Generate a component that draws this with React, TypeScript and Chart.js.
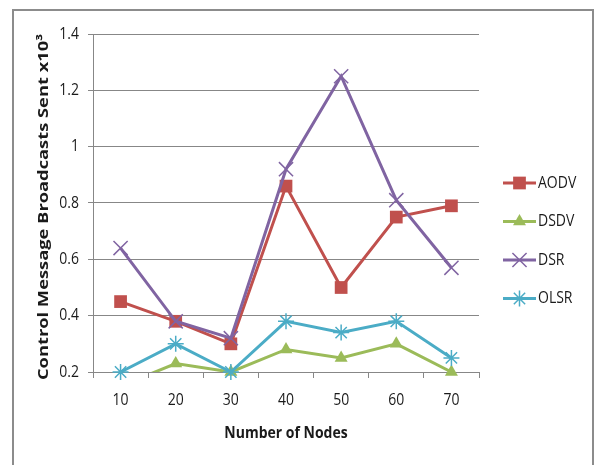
import React, { useEffect, useRef } from "react";
import { Chart, registerables } from "chart.js";

Chart.register(...registerables);

// Number of nodes on the x axis
const nodeCounts = ["10", "20", "30", "40", "50", "60", "70"];

// Control message broadcasts sent (x10^3) per protocol
const aodv = [0.45, 0.38, 0.3, 0.86, 0.5, 0.75, 0.79];
const dsdv = [0.15, 0.23, 0.2, 0.28, 0.25, 0.3, 0.2];
const dsr = [0.64, 0.38, 0.32, 0.92, 1.25, 0.81, 0.57];
const olsr = [0.2, 0.3, 0.2, 0.38, 0.34, 0.38, 0.25];

const seriesNames = ["AODV", "DSDV", "DSR", "OLSR"];
const yTicks = [0.2, 0.4, 0.6, 0.8, 1.0, 1.2, 1.4];
const yTickLabels = ["0.2", "0.4", "0.6", "0.8", "1", "1.2", "1.4"];

const Y_MIN = 0.2;
const Y_MAX = 1.4;

const FONT = "'Open Sans', 'DejaVu Sans', sans-serif";
const GRID = "#878787";
const TEXT = "#1a1a1a";
// text in this chart is drawn slightly taller than wide
const STRETCH = 1.2;

type Marker = "rect" | "triangle" | "crossRot" | "star";

const series: { name: string; values: number[]; color: string; marker: Marker; radius: number }[] = [
  { name: seriesNames[0], values: aodv, color: "#C0504D", marker: "rect", radius: 9 },
  { name: seriesNames[1], values: dsdv, color: "#9BBB59", marker: "triangle", radius: 7.5 },
  { name: seriesNames[2], values: dsr, color: "#8064A2", marker: "crossRot", radius: 10 },
  { name: seriesNames[3], values: olsr, color: "#4BACC6", marker: "star", radius: 8 },
];

function drawMarker(ctx: CanvasRenderingContext2D, m: Marker, x: number, y: number, r: number, color: string) {
  ctx.save();
  ctx.fillStyle = color;
  ctx.strokeStyle = color;
  ctx.lineWidth = 1.5;
  ctx.beginPath();
  if (m === "rect") {
    const s = r * Math.SQRT1_2;
    ctx.rect(x - s, y - s, 2 * s, 2 * s);
    ctx.fill();
  } else if (m === "triangle") {
    ctx.moveTo(x, y - r);
    ctx.lineTo(x + r * 0.866, y + r * 0.5);
    ctx.lineTo(x - r * 0.866, y + r * 0.5);
    ctx.closePath();
    ctx.fill();
  } else if (m === "crossRot") {
    const s = r * Math.SQRT1_2;
    ctx.moveTo(x - s, y - s);
    ctx.lineTo(x + s, y + s);
    ctx.moveTo(x + s, y - s);
    ctx.lineTo(x - s, y + s);
    ctx.stroke();
  } else {
    const s = r * Math.SQRT1_2;
    ctx.moveTo(x - s, y - s);
    ctx.lineTo(x + s, y + s);
    ctx.moveTo(x + s, y - s);
    ctx.lineTo(x - s, y + s);
    ctx.moveTo(x, y - r);
    ctx.lineTo(x, y + r);
    ctx.moveTo(x - r, y);
    ctx.lineTo(x + r, y);
    ctx.stroke();
  }
  ctx.restore();
}

function tallText(
  ctx: CanvasRenderingContext2D,
  text: string,
  x: number,
  y: number,
  align: CanvasTextAlign,
  font: string
) {
  ctx.save();
  ctx.translate(x, y);
  ctx.scale(1, STRETCH);
  ctx.font = font;
  ctx.fillStyle = TEXT;
  ctx.textAlign = align;
  ctx.textBaseline = "middle";
  ctx.fillText(text, 0, 0);
  ctx.restore();
}

// Frame, tick labels, axis titles and the legend at the right
const decorations = {
  id: "decorations",
  afterDraw(chart: Chart) {
    const ctx = chart.ctx;
    const area = chart.chartArea;
    const xs: any = chart.scales.x;
    const ys: any = chart.scales.y;
    ctx.save();
    ctx.strokeStyle = "#8c8c8c";
    ctx.lineWidth = 2;
    ctx.strokeRect(13, 10, 580, 500);

    const tickFont = `14px ${FONT}`;
    yTicks.forEach((v, i) => {
      tallText(ctx, yTickLabels[i], 79, ys.getPixelForValue(v), "right", tickFont);
    });
    nodeCounts.forEach((c, i) => {
      tallText(ctx, c, xs.getPixelForValue(i), 400, "center", tickFont);
    });

    tallText(ctx, "Number of Nodes", (area.left + area.right) / 2, 433, "center", `bold 14px ${FONT}`);

    ctx.save();
    ctx.translate(44, 207);
    ctx.rotate(-Math.PI / 2);
    ctx.scale(1.22, 1);
    ctx.font = `bold 15px ${FONT}`;
    ctx.fillStyle = TEXT;
    ctx.textAlign = "center";
    ctx.textBaseline = "middle";
    ctx.fillText("Control Message Broadcasts Sent x10\u00B3", 0, 0);
    ctx.restore();

    series.forEach((s, i) => {
      const y = 183 + i * 38.5;
      ctx.strokeStyle = s.color;
      ctx.lineWidth = 3;
      ctx.beginPath();
      ctx.moveTo(503, y);
      ctx.lineTo(536, y);
      ctx.stroke();
      drawMarker(ctx, s.marker, 519.5, y, s.radius, s.color);
      tallText(ctx, s.name, 538, y, "left", `14px ${FONT}`);
    });
    ctx.restore();
  },
};

export default function App() {
  const canvasRef = useRef<HTMLCanvasElement | null>(null);

  useEffect(() => {
    if (!canvasRef.current) return;

    const datasets: any[] = [];
    series.forEach((s, i) => {
      // connecting line, clipped to the plot area
      datasets.push({
        label: s.name,
        data: s.values,
        borderColor: s.color,
        backgroundColor: s.color,
        borderWidth: 3,
        pointRadius: 0,
        pointHoverRadius: 0,
        tension: 0,
        order: 10 - i * 2,
      });
      // markers, drawn unclipped so points on the axis stay whole
      datasets.push({
        label: s.name + " markers",
        data: s.values,
        showLine: false,
        clip: false,
        pointStyle: s.marker,
        pointRadius: (c: any) => {
          const v = c.raw as number;
          return v < Y_MIN - 1e-9 || v > Y_MAX + 1e-9 ? 0 : s.radius;
        },
        pointBackgroundColor: s.color,
        pointBorderColor: s.color,
        pointBorderWidth: s.marker === "rect" || s.marker === "triangle" ? 0 : 1.5,
        order: 9 - i * 2,
      });
    });

    const chart = new Chart(canvasRef.current, {
      type: "line",
      data: { labels: nodeCounts, datasets },
      options: {
        responsive: false,
        animation: false,
        events: [],
        layout: { padding: { top: 34, right: 115, left: 0, bottom: 0 } },
        plugins: { legend: { display: false }, tooltip: { enabled: false } },
        scales: {
          x: {
            type: "category",
            offset: true,
            afterFit: (scale: any) => {
              scale.height = 93;
            },
            grid: {
              offset: true,
              drawOnChartArea: false,
              drawTicks: true,
              tickLength: 6,
              color: GRID,
            },
            border: { display: true, color: GRID, width: 1 },
            ticks: { display: false },
          },
          y: {
            min: Y_MIN,
            max: Y_MAX,
            afterFit: (scale: any) => {
              scale.width = 93;
            },
            afterBuildTicks: (scale: any) => {
              scale.ticks = yTicks.map((v) => ({ value: v }));
            },
            grid: { color: GRID, tickLength: 5, drawTicks: true },
            border: { display: true, color: GRID, width: 1 },
            ticks: { display: false },
          },
        },
      },
      plugins: [decorations],
    });

    return () => chart.destroy();
  }, []);

  return (
    <div style={{ position: "fixed", left: 0, top: 0, width: 594, height: 465, background: "#fff" }}>
      <canvas ref={canvasRef} width={594} height={465} style={{ display: "block" }} />
    </div>
  );
}
